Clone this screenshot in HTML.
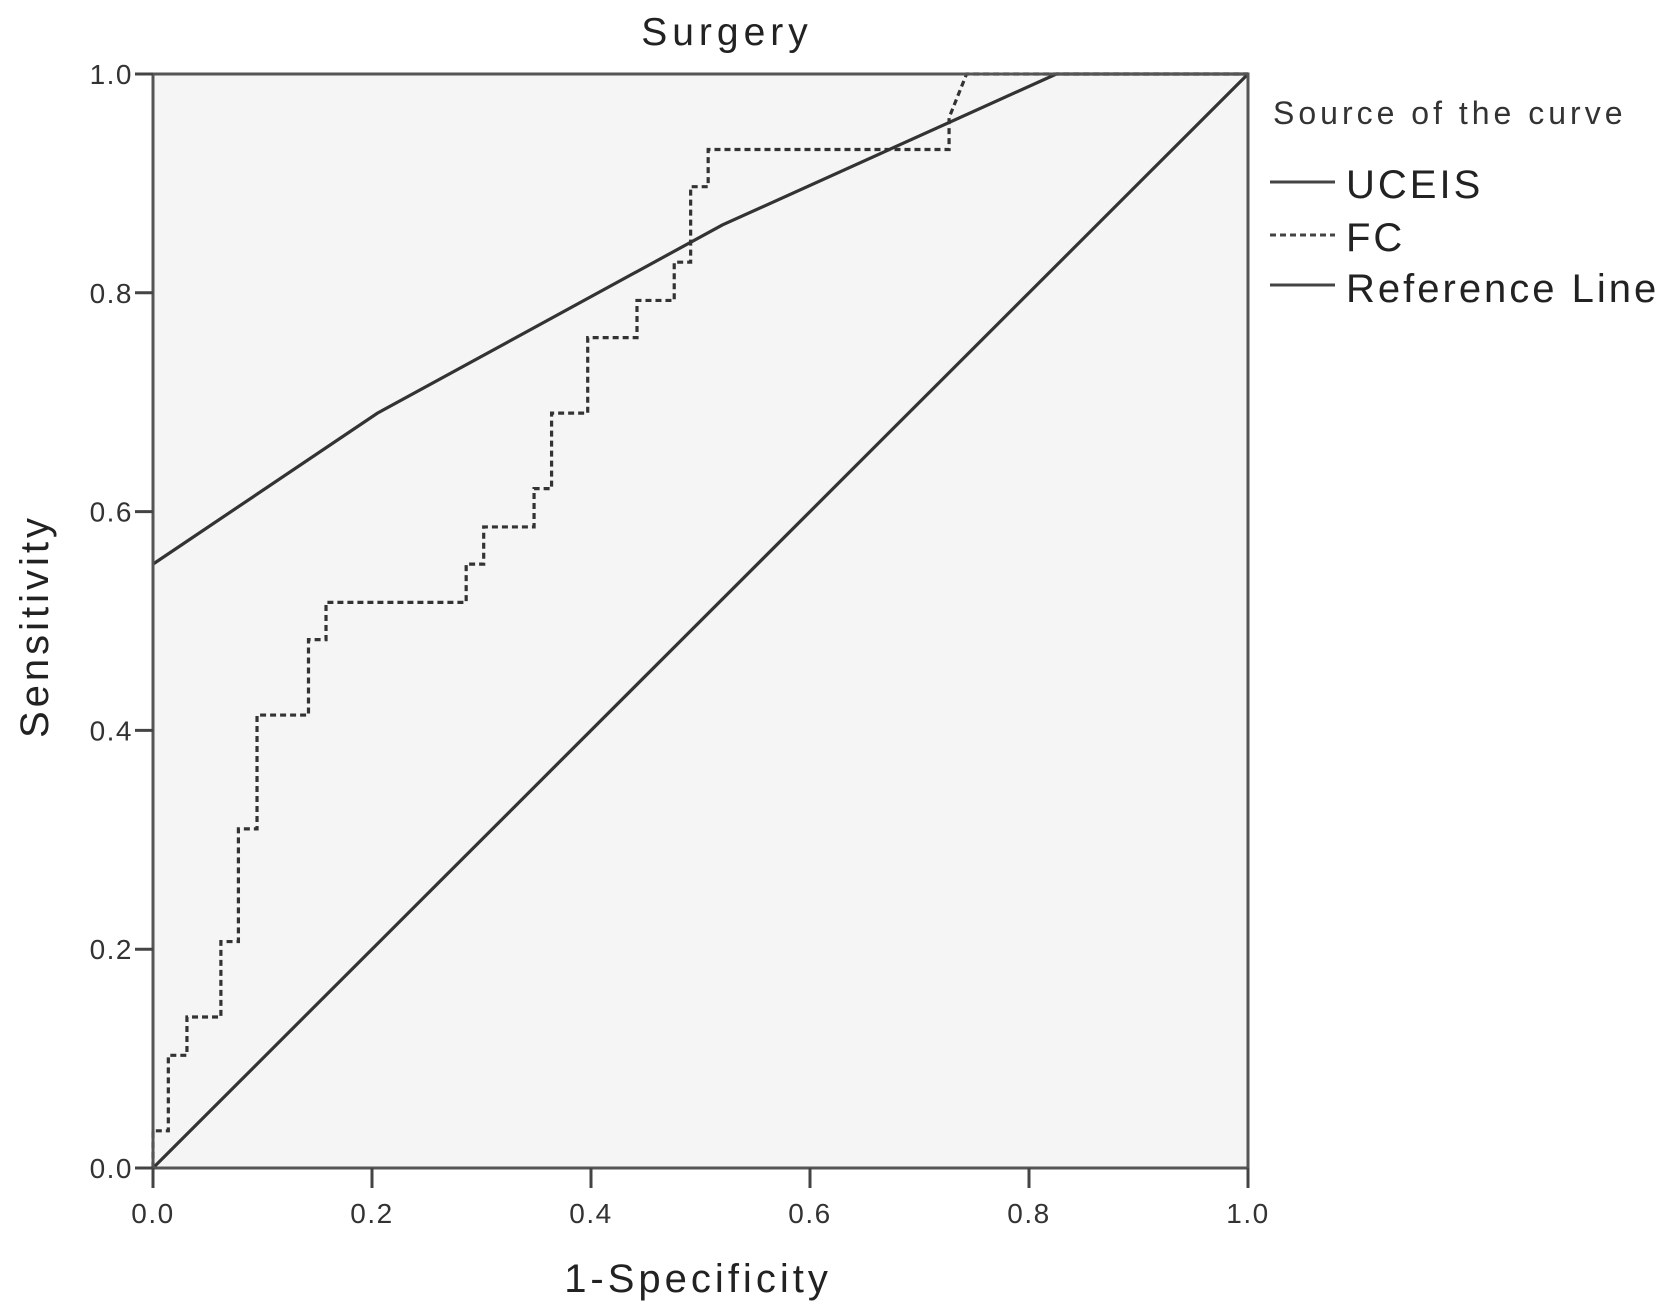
<!DOCTYPE html>
<html><head><meta charset="utf-8"><style>
html,body{margin:0;padding:0;background:#fff;}
svg{display:block;font-family:"Liberation Sans",Arial,sans-serif;}
</style></head><body>
<svg id="chart" width="1677" height="1315" viewBox="0 0 1677 1315">
<text x="727" y="45" font-size="39" letter-spacing="5" text-anchor="middle" fill="#222">Surgery</text>
<rect x="153" y="74" width="1095" height="1094" fill="#f5f5f5" stroke="none"/>
<g id="marks"></g>
<rect x="153" y="74" width="1095" height="1094" fill="none" stroke="#555" stroke-width="3"/>
<g id="axes"></g>
<text x="698" y="1292" font-size="40" letter-spacing="4" text-anchor="middle" fill="#222">1-Specificity</text>
<text transform="translate(48,626) rotate(-90)" font-size="40" letter-spacing="4" text-anchor="middle" fill="#222">Sensitivity</text>
<g>
<text x="1273" y="124" font-size="32" letter-spacing="4" fill="#333">Source of the curve</text>
<line x1="1270" y1="182" x2="1335" y2="182" stroke="#444" stroke-width="3"/>
<text x="1346" y="198" font-size="40" letter-spacing="3" fill="#222">UCEIS</text>
<line x1="1270" y1="235" x2="1335" y2="235" stroke="#444" stroke-width="3" stroke-dasharray="6,4"/>
<text x="1346" y="251" font-size="40" letter-spacing="3" fill="#222">FC</text>
<line x1="1270" y1="285" x2="1335" y2="285" stroke="#444" stroke-width="3"/>
<text x="1346" y="302" font-size="40" letter-spacing="3" fill="#222">Reference Line</text>
</g>
</svg>
<script>
const xTicks = [0, 0.2, 0.4, 0.6, 0.8, 1.0];
const yTicks = [0, 0.2, 0.4, 0.6, 0.8, 1.0];
const uceisX = [0, 0.205, 0.52, 0.825, 1.0];
const uceisY = [0.552, 0.69, 0.862, 1.0, 1.0];
const fcX = [0,0,0.014,0.014,0.031,0.031,0.062,0.062,0.078,0.078,0.095,0.095,0.142,0.142,0.158,0.158,0.286,0.286,0.302,0.302,0.348,0.348,0.364,0.364,0.397,0.397,0.442,0.442,0.476,0.476,0.491,0.491,0.507,0.507,0.727,0.727,0.743,1.0];
const fcY = [0,0.034,0.034,0.103,0.103,0.138,0.138,0.207,0.207,0.31,0.31,0.414,0.414,0.483,0.483,0.517,0.517,0.552,0.552,0.586,0.586,0.621,0.621,0.69,0.69,0.759,0.759,0.793,0.793,0.828,0.828,0.897,0.897,0.931,0.931,0.96,1.0,1.0];
const refX = [0, 1];
const refY = [0, 1];

const L=153,R=1248,T=74,B=1168;
const sx=v=>L+v*(R-L), sy=v=>B-v*(B-T);
const NS="http://www.w3.org/2000/svg";
const marks=document.getElementById('marks'), axes=document.getElementById('axes');
function poly(xs,ys,dash,name){
  const p=document.createElementNS(NS,'polyline');
  p.setAttribute('points',xs.map((x,i)=>sx(x)+','+sy(ys[i])).join(' '));
  p.setAttribute('fill','none');p.setAttribute('stroke','#333');p.setAttribute('stroke-width','3.2');
  if(dash)p.setAttribute('stroke-dasharray',dash);
  
  
  marks.appendChild(p);
}
poly(refX,refY,null,'reference-line');
poly(uceisX,uceisY,null,'uceis-curve');
poly(fcX,fcY,'6,4','fc-curve');
xTicks.forEach(v=>{
  const l=document.createElementNS(NS,'line');
  l.setAttribute('x1',sx(v));l.setAttribute('x2',sx(v));l.setAttribute('y1',B);l.setAttribute('y2',B+20);
  l.setAttribute('stroke','#444');l.setAttribute('stroke-width','3');
  
  
  axes.appendChild(l);
  const t=document.createElementNS(NS,'text');
  t.setAttribute('x',sx(v));t.setAttribute('y',B+55);t.setAttribute('font-size','28');
  t.setAttribute('letter-spacing','1.5');
  t.setAttribute('text-anchor','middle');t.setAttribute('fill','#333');t.textContent=v.toFixed(1);
  
  
  axes.appendChild(t);
});
yTicks.forEach(v=>{
  const l=document.createElementNS(NS,'line');
  l.setAttribute('x1',L-18);l.setAttribute('x2',L);l.setAttribute('y1',sy(v));l.setAttribute('y2',sy(v));
  l.setAttribute('stroke','#444');l.setAttribute('stroke-width','3');
  
  
  axes.appendChild(l);
  const t=document.createElementNS(NS,'text');
  t.setAttribute('x',L-20);t.setAttribute('y',sy(v)+10);t.setAttribute('font-size','28');
  t.setAttribute('letter-spacing','1.5');
  t.setAttribute('text-anchor','end');t.setAttribute('fill','#333');t.textContent=v.toFixed(1);
  
  
  axes.appendChild(t);
});
</script>
</body></html>
